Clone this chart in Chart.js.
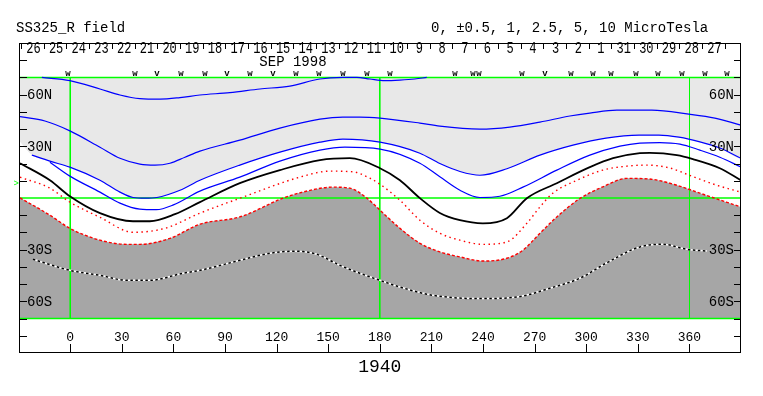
<!DOCTYPE html>
<html><head><meta charset="utf-8">
<script src="https://cdn.jsdelivr.net/npm/chart.js@4/dist/chart.umd.min.js"></script>
<style>html,body{margin:0;padding:0;background:#fff;}canvas{display:block;}</style>
</head><body>
<canvas id="c" width="763" height="396" style="width:763px;height:396px"></canvas>
<script>
// ---------- texts ----------
const titleLeft = 'SS325_R field';
const titleRight = '0, \u00b10.5, 1, 2.5, 5, 10 MicroTesla';
const rotationLabel = '1940';
const monthLabel = 'SEP 1998';
const monthLabelLon = 129.5;

// ---------- axes ----------
const lonMin = -29.2, lonMax = 390;
const lonTicks = [0, 30, 60, 90, 120, 150, 180, 210, 240, 270, 300, 330, 360];
const latTicks = [-80, -70, -60, -50, -40, -30, -20, -10, 10, 20, 30, 40, 50, 60, 70, 80];
const latLabelValues = [60, 30, -30, -60];
const latLabelTexts = ['60N', '30N', '30S', '60S'];
const greenLatLines = [70, 0, -70];
const greenLonLines = [0, 180];
const thinLonLines = [360];
const earthB0 = 7.2;

// ---------- day strip (Carrington rotation 1940) ----------
const dayLabels = [26,25,24,23,22,21,20,19,18,17,16,15,14,13,12,11,10,9,8,7,6,5,4,3,2,1,31,30,29,28,27];
const dayTickLon0 = -28.6;
const degPerDay = 13.2;

// ---------- observation markers ----------
const obsLon  = [-1.3, 37.6, 50.4, 64.4, 78.3, 91.1, 104.5, 117.8, 131.2, 144.6, 158.5, 172.5, 185.9, 223.7, 234.1, 237.6, 262.6, 276.0, 291.1, 303.9, 314.4, 328.9, 341.7, 355.6, 369.0, 381.8];
const obsType = ['w','w','v','w','w','v','w','v','w','w','w','w','w','w','w','w','w','v','w','w','w','w','w','w','w','w'];

// ---------- contours [lon, lat] ----------
const pos5 = [[-16.5,70],[-0.2,68.2],[17.3,63.3],[28.9,59.8],[40.5,57.7],[52.2,57.4],[63.8,58.3],[75.4,59.8],[92.8,61.2],[110.3,63.3],[127.7,65.0],[145.2,69.1],[158.5,70],[166.7,70],[174.2,69.1],[182.9,68.2],[191.7,68.5],[200.4,69.1],[207.3,70]];
const pos25 = [[-29.2,47.2],[-14.7,44.7],[-0.2,39.0],[17.3,29.5],[28.9,23.1],[40.5,19.7],[49.3,19.1],[58.0,20.2],[66.7,23.7],[75.4,27.2],[98.6,33.6],[121.9,40.6],[145.2,45.8],[158.5,47.0],[168.4,47.0],[180.1,46.4],[203.3,43.5],[214.9,41.7],[238.2,40.0],[255.6,41.2],[273.1,44.1],[290.5,47.6],[302.1,49.3],[317.8,51.0],[338.2,51.0],[359.7,48.7],[374.8,46.4],[389.9,42.3]];
const pos1 = [[-22.3,24.9],[-11.8,21.4],[-0.2,17.9],[17.3,10.3],[28.9,3.4],[36.5,0.3],[43.5,-0.1],[50.4,0.3],[63.8,4.5],[75.4,10.3],[98.6,19.1],[121.9,26.6],[145.2,32.4],[158.5,34.2],[180.1,32.4],[203.3,26.0],[214.9,20.0],[226.6,15.4],[238.2,13.2],[253.9,17.0],[273.1,24.9],[292.3,30.7],[311.5,34.8],[330.7,36.5],[342.3,36.5],[353.9,35.3],[366.1,32.6],[377.7,29.0],[389.9,23.1]];
const pos05 = [[-11.8,20.8],[-0.2,12.7],[17.3,3.4],[28.9,-3.0],[40.5,-6.5],[50.0,-6.8],[60.0,-4.0],[75.4,4.0],[98.6,12.1],[121.9,21.4],[145.2,27.8],[159.7,29.5],[180.1,28.4],[203.3,20.2],[214.9,12.3],[226.6,4.5],[238.2,0.3],[249.8,1.0],[263.2,6.3],[282.9,16.2],[302.1,24.9],[319.6,30.1],[331.2,31.9],[342.8,32.2],[354.5,31.3],[366.1,27.8],[377.7,23.7],[389.9,18.0]];
const neutral = [[-29.2,20.2],[-11.8,10.3],[-0.2,1.0],[17.3,-8.8],[36.5,-13.5],[46.3,-13.5],[60.9,-9.4],[75.4,-2.4],[98.6,8.6],[121.9,16.2],[145.2,22.0],[162.6,23.1],[180.1,17.3],[191.7,10.3],[203.3,-0.1],[214.9,-8.7],[226.6,-12.9],[239.9,-14.7],[253.9,-11.7],[265.5,-0.1],[282.9,8.6],[302.1,17.9],[315.6,23.1],[331.2,26.0],[337.0,26.2],[352.7,24.9],[362.0,22.6],[377.7,17.3],[389.9,10.3]];
const neg05 = [[-29.2,12.1],[-11.8,5.7],[-0.2,-2.4],[17.3,-11.2],[36.5,-19.9],[55.1,-17.6],[75.4,-8.8],[100.4,0.5],[133.5,12.1],[151.0,15.6],[164.4,15.2],[174.2,11.5],[180.1,8.0],[191.7,-1.3],[203.3,-12.9],[214.9,-20.5],[226.6,-24.5],[239.9,-26.9],[253.9,-25.5],[265.5,-14.7],[273.1,-5.2],[280.6,2.8],[294.6,10.3],[309.7,16.2],[323.7,18.5],[335.3,19.1],[348.7,17.4],[362.0,12.4],[376.0,7.4],[389.9,3.4]];
const neg1 = [[-29.2,0.1],[-11.8,-10.0],[-0.2,-17.6],[17.3,-24.5],[33.0,-26.9],[40.5,-26.9],[58.0,-23.4],[75.4,-15.2],[98.6,-11.0],[123.7,-0.1],[133.5,3.0],[152.7,6.3],[162.6,5.7],[172.5,-0.1],[180.1,-7.1],[191.7,-17.6],[203.3,-26.3],[214.9,-31.3],[226.6,-34.2],[239.9,-36.6],[253.9,-35.0],[263.2,-30.3],[273.1,-20.5],[282.9,-11.0],[296.3,-0.3],[309.7,6.5],[323.7,11.4],[337.0,11.0],[352.7,7.4],[366.1,2.8],[389.9,-5.2]];
const neg25 = [[-21.7,-35.6],[-0.2,-42.0],[17.3,-44.9],[33.0,-47.8],[46.3,-47.8],[65.5,-43.7],[75.4,-42.0],[98.6,-36.2],[116.1,-32.1],[130.6,-30.9],[143.4,-32.7],[156.8,-39.1],[168.4,-43.7],[180.1,-47.8],[191.7,-51.7],[210.9,-56.5],[238.2,-58.4],[259.7,-57.5],[278.9,-52.4],[296.3,-46.6],[311.5,-37.9],[331.2,-28.4],[344.6,-26.9],[358.5,-29.8],[370.2,-30.8]];
// edge of the light shading beyond the drawn +1 contour
const lightEdgeStart = [[-29.2,32.6]];
const lightEdgeEnd = [[389.9,26.6]];

const mapTop = 70, mapBottom = -70;

const pts = a => a.map(p => ({x: p[0], y: p[1]}));
const LIGHT = '#e8e8e8', DARK = '#a6a6a6', GREEN = '#00ff00', BLUE = '#0000ff', RED = '#ff0000';

function lineDs(data, color, width, dash, order) {
  return {data: pts(data), showLine: true, borderColor: color, borderWidth: width, borderDash: dash || [],
    pointRadius: 0, fill: false, cubicInterpolationMode: 'monotone', order: order || 1, borderCapStyle: 'butt'};
}

const datasets = [
  {data: pts(lightEdgeStart.concat(pos1, lightEdgeEnd)), showLine: true, borderWidth: 0, borderColor: 'rgba(0,0,0,0)',
   backgroundColor: LIGHT, fill: {value: mapTop}, pointRadius: 0, cubicInterpolationMode: 'monotone', order: 20},
  {data: pts(neg1), showLine: true, borderWidth: 0, borderColor: 'rgba(0,0,0,0)',
   backgroundColor: DARK, fill: {value: mapBottom}, pointRadius: 0, cubicInterpolationMode: 'monotone', order: 19},
  lineDs(pos5, BLUE, 1.2),
  lineDs(pos25, BLUE, 1.2),
  lineDs(pos1, BLUE, 1.2),
  lineDs(pos05, BLUE, 1.2),
  lineDs(neutral, '#000', 1.8),
  lineDs(neg05, RED, 1.4, [1.5, 3.5]),
  lineDs(neg1, RED, 1.4, [3, 2]),
  lineDs(neg25, '#fff', 1.5, [], 3),
  lineDs(neg25, '#000', 1.5, [2.5, 2.5], 2)
];

const MONO = '"Liberation Mono", "DejaVu Sans Mono", monospace';

const mapPlugin = {
  id: 'mapDecor',
  beforeDatasetsDraw(chart) {
    const ctx = chart.ctx, xs = chart.scales.x, ys = chart.scales.y, a = chart.chartArea;
    ctx.save();
    ctx.strokeStyle = GREEN; ctx.lineWidth = 1.6;
    greenLatLines.forEach(v => { const y = ys.getPixelForValue(v); ctx.beginPath(); ctx.moveTo(a.left, y); ctx.lineTo(a.right, y); ctx.stroke(); });
    greenLonLines.forEach(v => { const x = xs.getPixelForValue(v); ctx.beginPath(); ctx.moveTo(x, ys.getPixelForValue(mapTop)); ctx.lineTo(x, ys.getPixelForValue(mapBottom)); ctx.stroke(); });
    ctx.lineWidth = 1;
    thinLonLines.forEach(v => { const x = Math.round(xs.getPixelForValue(v)) + 0.5; ctx.beginPath(); ctx.moveTo(x, ys.getPixelForValue(mapTop)); ctx.lineTo(x, ys.getPixelForValue(mapBottom)); ctx.stroke(); });
    ctx.restore();
  },
  afterDraw(chart) {
    const ctx = chart.ctx, xs = chart.scales.x, ys = chart.scales.y, a = chart.chartArea;
    ctx.save();
    // frame
    ctx.strokeStyle = '#000'; ctx.lineWidth = 1;
    ctx.strokeRect(Math.round(a.left) - 0.5, Math.round(a.top) + 0.5, Math.round(a.right - a.left), Math.round(a.bottom - a.top) - 1);
    // lat ticks
    latTicks.forEach(v => {
      const y = Math.round(ys.getPixelForValue(v)) + 0.5;
      ctx.beginPath(); ctx.moveTo(a.left, y); ctx.lineTo(a.left + 7, y); ctx.stroke();
      ctx.beginPath(); ctx.moveTo(a.right, y); ctx.lineTo(a.right - 7, y); ctx.stroke();
    });
    // lon ticks
    lonTicks.forEach(v => {
      const x = Math.round(xs.getPixelForValue(v)) + 0.5;
      ctx.beginPath(); ctx.moveTo(x, a.bottom); ctx.lineTo(x, a.bottom - 9); ctx.stroke();
    });
    ctx.fillStyle = '#000';
    ctx.font = '13px ' + MONO; ctx.textAlign = 'center'; ctx.textBaseline = 'middle';
    lonTicks.forEach(v => ctx.fillText(String(v), xs.getPixelForValue(v), a.bottom - 15));
    ctx.font = '14px ' + MONO;
    latLabelValues.forEach((v, i) => {
      const y = ys.getPixelForValue(v) + 1;
      ctx.textAlign = 'left'; ctx.fillText(latLabelTexts[i], a.left + 7, y);
      ctx.textAlign = 'right'; ctx.fillText(latLabelTexts[i], a.right - 7, y);
    });
    // rotation number
    ctx.font = '18px ' + MONO; ctx.textAlign = 'center';
    ctx.fillText(rotationLabel, xs.getPixelForValue(180), a.bottom + 14);
    // titles
    ctx.font = '14px ' + MONO; ctx.textBaseline = 'alphabetic';
    ctx.textAlign = 'left'; ctx.fillText(titleLeft, 16, 32);
    ctx.fillText(titleRight, 431, 32);
    // month
    ctx.textAlign = 'center'; ctx.textBaseline = 'middle';
    ctx.fillText(monthLabel, xs.getPixelForValue(monthLabelLon), 62);
    // day strip
    for (let k = 0; k <= dayLabels.length; k++) {
      const x = Math.round(xs.getPixelForValue(dayTickLon0 + k * degPerDay)) + 0.5;
      ctx.beginPath(); ctx.moveTo(x, a.top + 1); ctx.lineTo(x, a.top + 6); ctx.stroke();
    }
    ctx.font = '12px ' + MONO;
    dayLabels.forEach((d, k) => {
      const x = xs.getPixelForValue(dayTickLon0 + (k + 0.5) * degPerDay);
      ctx.save(); ctx.translate(x + 1, 49); ctx.scale(1, 1.3); ctx.fillText(String(d), 0, 0); ctx.restore();
    });
    // observation markers
    ctx.font = 'bold 9px ' + MONO; ctx.textBaseline = 'alphabetic';
    obsLon.forEach((lon, i) => ctx.fillText(obsType[i], xs.getPixelForValue(lon), ys.getPixelForValue(mapTop) - 1));
    // earth latitude marker
    ctx.fillStyle = GREEN; ctx.font = '9px ' + MONO; ctx.textAlign = 'right';
    ctx.fillText('>', a.left - 1, ys.getPixelForValue(earthB0));
    ctx.restore();
  }
};

new Chart(document.getElementById('c'), {
  type: 'scatter',
  data: {datasets},
  options: {
    responsive: false, animation: false, devicePixelRatio: 1,
    layout: {padding: {left: 20, right: 22, top: 43, bottom: 43}},
    scales: {
      x: {type: 'linear', min: lonMin, max: lonMax, display: false},
      y: {type: 'linear', min: -90, max: 90, display: false}
    },
    plugins: {legend: {display: false}, tooltip: {enabled: false}, filler: {drawTime: 'beforeDatasetsDraw'}},
    elements: {line: {tension: 0}}
  },
  plugins: [mapPlugin]
});
</script>
</body></html>
